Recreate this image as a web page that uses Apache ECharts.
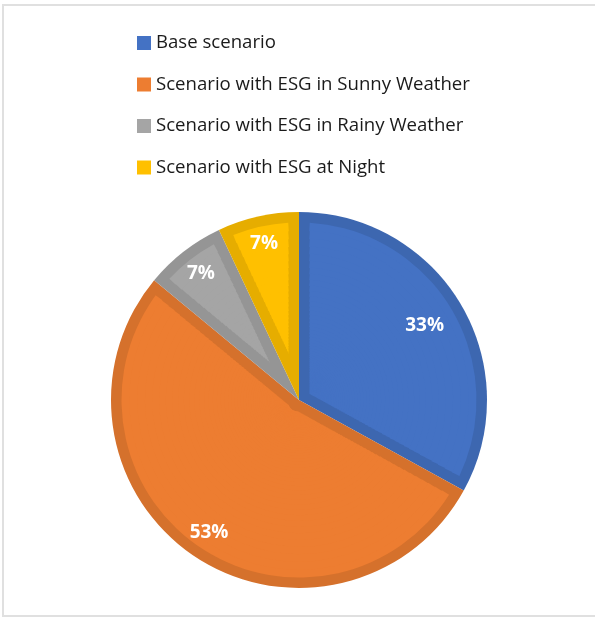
<!DOCTYPE html>
<html>
<head>
<meta charset="utf-8">
<script src="https://cdn.jsdelivr.net/npm/echarts@6/dist/echarts.min.js"></script>
<style>
  html, body { margin: 0; padding: 0; background: #fff; }
  #frame {
    position: absolute; left: 2px; top: 4px; width: 610px; height: 613px;
    border: 2px solid #e0e0e0; box-sizing: border-box;
  }
  #chart { position: absolute; left: 0; top: 0; width: 595px; height: 617px; }
</style>
</head>
<body>
<div id="frame"></div>
<div id="chart"></div>
<script>
// Scenario shares (percent of total)
const categories = [
  'Base scenario',
  'Scenario with ESG in Sunny Weather',
  'Scenario with ESG in Rainy Weather',
  'Scenario with ESG at Night'
];
const shares = [33, 53, 7, 7];

// Slice fill and the darker edge tone of each slice
const fillColors = ['#4472C4', '#ED7D31', '#A5A5A5', '#FFC000'];
const edgeColors = ['#3D67B0', '#D5712C', '#959595', '#E6AD00'];

const FONT = 'Open Sans';
const CENTER = [299, 400];
const OUTER_R = 188;   // full pie radius
const EDGE_W = 10.5;   // width of the darker rim inside every slice

const total = shares.reduce((a, b) => a + b, 0);

function sliceData(colors, labelFilter) {
  return categories.map((name, i) => ({
    name: name,
    value: shares[i],
    itemStyle: { color: colors ? colors[i] : 'transparent' },
    label: { show: labelFilter ? labelFilter(i) : false }
  }));
}

// One ring of the light slice faces: every slice is shrunk on both sides by
// the angle that the rim width spans at this radius; the freed share goes to
// transparent spacers so the ring keeps the same angular layout as the pie.
function faceRing(radius) {
  const halfShare = Math.asin(Math.min(1, EDGE_W / radius)) / (2 * Math.PI) * total;
  const spacer = v => ({ name: '', value: v, itemStyle: { color: 'transparent' } });
  const out = [];
  let gap = 0;
  shares.forEach((v, i) => {
    const face = v - 2 * halfShare;
    if (face <= 0) {
      gap += v;
    } else {
      out.push(spacer(gap + halfShare));
      out.push({ name: categories[i], value: face, itemStyle: { color: fillColors[i] } });
      gap = halfShare;
    }
  });
  out.push(spacer(gap));
  return out;
}

const series = [];

// Dark base pie: forms the rim of each slice
series.push({
  type: 'pie',
  center: CENTER,
  radius: [0, OUTER_R],
  startAngle: 90,
  clockwise: true,
  silent: true,
  label: { show: false },
  labelLine: { show: false },
  itemStyle: { borderWidth: 0 },
  data: sliceData(edgeColors)
});

// Lighter inner face of each slice, inset from every edge by the rim width.
const faceOuter = OUTER_R - EDGE_W;
const ratio = 1.05;
let outer = faceOuter;
while (outer > 12) {
  const inner = outer / ratio;
  const mid = (outer + inner) / 2;
  series.push({
    type: 'pie',
    center: CENTER,
    radius: [inner, outer === faceOuter ? outer : outer + 0.8],
    startAngle: 90,
    clockwise: true,
    silent: true,
    label: { show: false },
    labelLine: { show: false },
    itemStyle: { borderWidth: 0 },
    data: faceRing(mid)
  });
  outer = inner;
}

// Percentage labels placed near the outer part of each slice
const labelStyle = {
  position: 'inside',
  color: '#ffffff',
  fontFamily: FONT,
  fontWeight: 'bold',
  fontSize: 19,
  formatter: p => p.value + '%'
};
series.push({
  type: 'pie',
  center: CENTER,
  radius: [98, OUTER_R],
  startAngle: 90,
  silent: true,
  label: labelStyle,
  labelLine: { show: false },
  itemStyle: { borderWidth: 0 },
  data: sliceData(null, i => i === 0)
});
series.push({
  type: 'pie',
  center: CENTER,
  radius: [126, OUTER_R],
  startAngle: 90,
  silent: true,
  label: labelStyle,
  labelLine: { show: false },
  itemStyle: { borderWidth: 0 },
  data: sliceData(null, i => i !== 0)
});

const chart = echarts.init(document.getElementById('chart'), null, { renderer: 'canvas' });
chart.setOption({
  animation: false,
  backgroundColor: 'transparent',
  legend: {
    orient: 'vertical',
    left: 137,
    top: 33,
    padding: 0,
    itemWidth: 14,
    itemHeight: 14,
    itemGap: 21.5,
    icon: 'rect',
    selectedMode: false,
    textStyle: { fontFamily: FONT, fontSize: 18.6, color: '#1a1a1a', lineHeight: 20 },
    data: categories.map((name, i) => ({ name: name, itemStyle: { color: fillColors[i] } }))
  },
  series: series
});
</script>
</body>
</html>
